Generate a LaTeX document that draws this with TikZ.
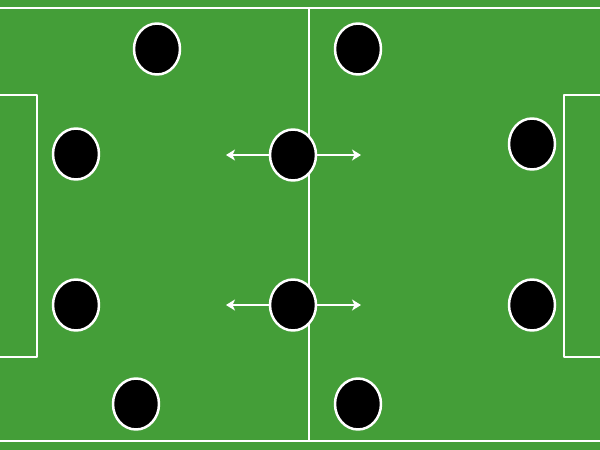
\documentclass[tikz,border=0pt]{standalone}
\usetikzlibrary{shapes.geometric,arrows.meta}
\definecolor{pitch}{RGB}{68,158,56}
\begin{document}
\begin{tikzpicture}[x=1pt, y=-1pt, line join=round, >={Stealth[length=9pt,width=11pt,inset=2.5pt]},
    line/.style={draw=white, line width=2.2pt},
    player/.style={ellipse, fill=black, draw=white, line width=2.5pt, minimum width=46pt, minimum height=51pt, inner sep=0pt}]
            \def\xmin{0}\def\xmax{600}\def\ymin{0}\def\ymax{450}
            \fill[pitch] (\xmin,\ymin) rectangle (\xmax,\ymax);
            \useasboundingbox (\xmin,\ymin) rectangle (\xmax,\ymax);
            \draw[line] (\xmin,8)--(\xmax,8);
            \draw[line] (\xmin,441)--(\xmax,441);
            \draw[line] (309,8)--(309,441);
            \draw[line] (-2,95)--(37,95)--(37,357)--(-2,357);
            \draw[line] (602,95)--(564,95)--(564,357)--(602,357);
            \foreach \n/\x/\y in {1/157/49, 2/358/49, 3/76/154, 4/293/155, 5/532/144, 6/76/305, 7/293/305, 8/532/305, 9/136/404, 10/358/404}
                \node[player] (p\n) at (\x,\y) {};
            \coordinate (a4) at (226,155); \coordinate (b4) at (361,155);
            \coordinate (a7) at (226,305); \coordinate (b7) at (361,305);
            \foreach \n in {4,7}{
                \draw[->, white, line width=1.8pt] (p\n.west)--(a\n);
                \draw[->, white, line width=1.8pt] (p\n.east)--(b\n);
            }
        \end{tikzpicture}
\end{document}
